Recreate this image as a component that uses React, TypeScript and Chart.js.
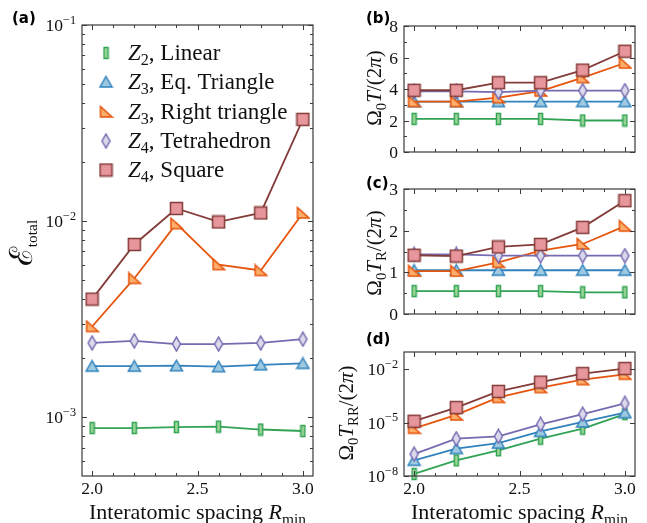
import React, { useEffect, useRef } from "react";
import { Chart, registerables } from "chart.js";

Chart.register(...registerables);

// ---------------- data ----------------
const xValues = [2.0, 2.2, 2.4, 2.6, 2.8, 3.0];
const seriesNames = ["Linear", "Eq. Triangle", "Right triangle", "Tetrahedron", "Square"];
const seriesGroups = ["2", "3", "3", "4", "4"];

// (a) total error
const totalLinear = [8.8e-4, 8.8e-4, 8.9e-4, 8.95e-4, 8.65e-4, 8.5e-4];
const totalEq = [1.82e-3, 1.82e-3, 1.83e-3, 1.81e-3, 1.85e-3, 1.88e-3];
const totalRight = [2.9e-3, 5.1e-3, 9.7e-3, 6.0e-3, 5.6e-3, 1.1e-2];
const totalTetra = [2.39e-3, 2.45e-3, 2.36e-3, 2.36e-3, 2.39e-3, 2.5e-3];
const totalSquare = [4.0e-3, 7.6e-3, 1.16e-2, 9.9e-3, 1.1e-2, 3.3e-2];

// (b) Omega0 T / 2pi
const periodLinear = [2.1, 2.1, 2.1, 2.1, 2.0, 2.0];
const periodEq = [3.2, 3.2, 3.2, 3.2, 3.2, 3.2];
const periodRight = [3.2, 3.2, 3.45, 3.87, 4.72, 5.65];
const periodTetra = [3.85, 3.85, 3.8, 3.9, 3.9, 3.9];
const periodSquare = [3.92, 3.92, 4.4, 4.4, 5.2, 6.4];

// (c) Omega0 T_R / 2pi
const trLinear = [0.55, 0.55, 0.55, 0.55, 0.52, 0.52];
const trEq = [1.05, 1.05, 1.05, 1.05, 1.05, 1.05];
const trRight = [1.03, 1.03, 1.24, 1.52, 1.68, 2.11];
const trTetra = [1.43, 1.43, 1.4, 1.4, 1.4, 1.4];
const trSquare = [1.41, 1.39, 1.61, 1.67, 2.08, 2.72];

// (d) Omega0 T_RR / 2pi
const trrLinear = [1.3e-8, 7.6e-8, 2.8e-7, 1.25e-6, 4.6e-6, 3.0e-5];
const trrEq = [7.6e-8, 3.5e-7, 7.0e-7, 3.2e-6, 1.1e-5, 3.6e-5];
const trrRight = [4.8e-6, 2.7e-5, 2.6e-4, 9.3e-4, 2.6e-3, 5.2e-3];
const trrTetra = [1.7e-7, 1.25e-6, 1.7e-6, 8.0e-6, 3.0e-5, 1.2e-4];
const trrSquare = [1.2e-5, 7.0e-5, 5.7e-4, 1.9e-3, 5.7e-3, 1.1e-2];

// ticks
const xMajorTicks = [2.0, 2.5, 3.0];
const xMinorTicks = [2.1, 2.2, 2.3, 2.4, 2.6, 2.7, 2.8, 2.9];
const xTickLabels = ["2.0", "2.5", "3.0"];
const aMajorTicks = [1e-1, 1e-2, 1e-3];
const aTickExps = ["−1", "−2", "−3"];
const bMajorTicks = [0, 2, 4, 6, 8];
const bMinorTicks = [1, 3, 5, 7];
const cMajorTicks = [0, 1, 2, 3];
const cMinorTicks = [0.5, 1.5, 2.5];
const dMajorTicks = [1e-2, 1e-5, 1e-8];
const dTickExps = ["−2", "−5", "−8"];

// ---------------- styles ----------------
const W = 647;
const H = 523;
const SERIF = '"Liberation Serif", "DejaVu Serif", serif';
const EDGE = ["#31a354", "#3182bd", "#e6550d", "#756bb1", "#843c39"];
const FILL = ["#a1d99b", "#9ecae1", "#fdae6b", "#dadaeb", "#e7969c"];
const AXIS = "#3a3a3a";
const TICK_FONT = 17.5;

type Seg = { t: string; it?: boolean; sub?: boolean; sup?: boolean; family?: string; scale?: number };

function segSize(s: Seg, size: number) {
  return s.sub || s.sup ? size * 0.7 : size * (s.scale ?? 1);
}
function segFont(s: Seg, size: number) {
  return `${s.it ? "italic " : ""}${segSize(s, size)}px ${s.family ?? SERIF}`;
}
function drawRich(ctx: CanvasRenderingContext2D, segs: Seg[], x: number, y: number, size: number, align: "left" | "center" | "right") {
  ctx.textAlign = "left";
  ctx.textBaseline = "alphabetic";
  const widths = segs.map((s) => {
    ctx.font = segFont(s, size);
    return ctx.measureText(s.t).width;
  });
  const total = widths.reduce((a, b) => a + b, 0);
  let cx = align === "left" ? x : align === "center" ? x - total / 2 : x - total;
  segs.forEach((s, i) => {
    ctx.font = segFont(s, size);
    const dy = s.sub ? size * 0.22 : s.sup ? -size * 0.42 : 0;
    ctx.fillText(s.t, cx, y + dy);
    cx += widths[i];
  });
}

function makeMarker(kind: number): HTMLCanvasElement {
  const c = document.createElement("canvas");
  const dims = [
    [7, 14],
    [15, 14],
    [15, 14],
    [11, 16],
    [15, 15],
  ][kind];
  c.width = dims[0];
  c.height = dims[1];
  const g = c.getContext("2d")!;
  g.fillStyle = FILL[kind];
  g.strokeStyle = EDGE[kind];
  g.lineWidth = 1.5;
  g.lineJoin = "miter";
  g.beginPath();
  if (kind === 0) {
    g.rect(1.5, 1.5, 4, 11);
  } else if (kind === 1) {
    g.moveTo(7.5, 1.5);
    g.lineTo(13.5, 12);
    g.lineTo(1.5, 12);
    g.closePath();
  } else if (kind === 2) {
    g.moveTo(2, 1.5);
    g.lineTo(2, 12);
    g.lineTo(13.5, 12);
    g.closePath();
  } else if (kind === 3) {
    g.moveTo(5.5, 1);
    g.lineTo(9.5, 8);
    g.lineTo(5.5, 15);
    g.lineTo(1.5, 8);
    g.closePath();
  } else {
    g.rect(1.5, 1.5, 12, 12);
  }
  g.fill();
  g.stroke();
  return c;
}

interface PanelSpec {
  key: string;
  area: { l: number; t: number; r: number; b: number };
  yType: "linear" | "logarithmic";
  yMin: number;
  yMax: number;
  yMajor: number[];
  yMinor: number[];
  yLabels: Seg[][];
  xLabels: boolean;
  yTitle: Seg[];
  yTitleSize: number;
  yTitleX: number;
  yTitleY: number;
  letter: string;
  letterY: number;
  letterX: number;
  series: number[][];
  legend?: boolean;
}

function logMinors(lo: number, hi: number) {
  const out: number[] = [];
  for (let e = -9; e <= 0; e++) {
    for (let k = 2; k <= 9; k++) {
      const v = k * Math.pow(10, e);
      if (v > lo && v < hi) out.push(v);
    }
  }
  return out;
}

const panels: PanelSpec[] = [
  {
    key: "a",
    area: { l: 82, t: 25, r: 313, b: 476 },
    yType: "logarithmic",
    yMin: Math.pow(10, -3.3),
    yMax: 0.1,
    yMajor: aMajorTicks,
    yMinor: logMinors(Math.pow(10, -3.3), 0.1),
    yLabels: aTickExps.map((e) => [{ t: "10" }, { t: e, sup: true }]),
    xLabels: true,
    yTitle: [{ t: "ℰ", family: '"DejaVu Serif", serif', scale: 1.45 }, { t: "total", sub: true }],
    yTitleSize: 22,
    yTitleX: 32,
    yTitleY: 243,
    letter: "(a)",
    letterX: 12,
    letterY: 23,
    series: [totalLinear, totalEq, totalRight, totalTetra, totalSquare],
    legend: true,
  },
  {
    key: "b",
    area: { l: 404, t: 26, r: 635, b: 152 },
    yType: "linear",
    yMin: 0,
    yMax: 8,
    yMajor: bMajorTicks,
    yMinor: bMinorTicks,
    yLabels: bMajorTicks.map((v) => [{ t: String(v) }]),
    xLabels: false,
    yTitle: [{ t: "Ω" }, { t: "0", sub: true }, { t: "T", it: true }, { t: "/(2" }, { t: "π", it: true }, { t: ")" }],
    yTitleSize: 21,
    yTitleX: 381,
    yTitleY: 88,
    letter: "(b)",
    letterX: 366,
    letterY: 23,
    series: [periodLinear, periodEq, periodRight, periodTetra, periodSquare],
  },
  {
    key: "c",
    area: { l: 404, t: 189, r: 635, b: 314 },
    yType: "linear",
    yMin: 0,
    yMax: 3,
    yMajor: cMajorTicks,
    yMinor: cMinorTicks,
    yLabels: cMajorTicks.map((v) => [{ t: String(v) }]),
    xLabels: false,
    yTitle: [{ t: "Ω" }, { t: "0", sub: true }, { t: "T", it: true }, { t: "R", sub: true }, { t: "/(2" }, { t: "π", it: true }, { t: ")" }],
    yTitleSize: 21,
    yTitleX: 381,
    yTitleY: 253,
    letter: "(c)",
    letterX: 366,
    letterY: 188,
    series: [trLinear, trEq, trRight, trTetra, trSquare],
  },
  {
    key: "d",
    area: { l: 404, t: 352, r: 635, b: 476 },
    yType: "logarithmic",
    yMin: 1e-8,
    yMax: Math.pow(10, -1.03),
    yMajor: dMajorTicks,
    yMinor: [],
    yLabels: dTickExps.map((e) => [{ t: "10" }, { t: e, sup: true }]),
    xLabels: true,
    yTitle: [{ t: "Ω" }, { t: "0", sub: true }, { t: "T", it: true }, { t: "RR", sub: true }, { t: "/(2" }, { t: "π", it: true }, { t: ")" }],
    yTitleSize: 21,
    yTitleX: 353,
    yTitleY: 413,
    letter: "(d)",
    letterX: 366,
    letterY: 344,
    series: [trrLinear, trrEq, trrRight, trrTetra, trrSquare],
  },
];

function Panel({ spec }: { spec: PanelSpec }) {
  const ref = useRef<HTMLCanvasElement>(null);
  useEffect(() => {
    const markers = [0, 1, 2, 3, 4].map(makeMarker);
    const a = spec.area;
    const decor = {
      id: "decor" + spec.key,
      afterDraw(chart: any) {
        const ctx: CanvasRenderingContext2D = chart.ctx;
        const xs = chart.scales.x;
        const ys = chart.scales.y;
        ctx.save();
        ctx.strokeStyle = AXIS;
        ctx.lineWidth = 1.2;
        ctx.strokeRect(a.l, a.t, a.r - a.l, a.b - a.t);
        ctx.lineWidth = 1;
        const tick = (x1: number, y1: number, x2: number, y2: number) => {
          ctx.beginPath();
          ctx.moveTo(x1, y1);
          ctx.lineTo(x2, y2);
          ctx.stroke();
        };
        const xt = (vals: number[], len: number) =>
          vals.forEach((v) => {
            const px = Math.round(xs.getPixelForValue(v)) + 0.5;
            tick(px, a.b, px, a.b - len);
            tick(px, a.t, px, a.t + len);
          });
        const yt = (vals: number[], len: number) =>
          vals.forEach((v) => {
            const py = Math.round(ys.getPixelForValue(v)) + 0.5;
            tick(a.l, py, a.l + len, py);
            tick(a.r, py, a.r - len, py);
          });
        xt(xMajorTicks, 5);
        xt(xMinorTicks, 3);
        yt(spec.yMajor, 5);
        yt(spec.yMinor, 3);

        ctx.fillStyle = "#111";
        spec.yMajor.forEach((v, i) => {
          const py = ys.getPixelForValue(v);
          drawRich(ctx, spec.yLabels[i], a.l - 6, py + 6, TICK_FONT, "right");
        });
        if (spec.xLabels) {
          xMajorTicks.forEach((v, i) => {
            const px = xs.getPixelForValue(v);
            drawRich(ctx, [{ t: xTickLabels[i] }], px, 494, TICK_FONT, "center");
          });
          drawRich(ctx, [{ t: "Interatomic spacing " }, { t: "R", it: true }, { t: "min", sub: true }], (a.l + a.r) / 2, 519, 22, "center");
        }
        ctx.save();
        ctx.translate(spec.yTitleX, spec.yTitleY);
        ctx.rotate(-Math.PI / 2);
        drawRich(ctx, spec.yTitle, 0, 0, spec.yTitleSize, "center");
        ctx.restore();
        ctx.font = 'bold 15px "DejaVu Sans", sans-serif';
        ctx.textAlign = "left";
        ctx.textBaseline = "alphabetic";
        ctx.fillStyle = "#000";
        ctx.fillText(spec.letter, spec.letterX, spec.letterY);
        if (spec.legend) {
          const rows = [53, 82, 112, 141, 170];
          rows.forEach((ry, i) => {
            const m = markers[i];
            ctx.drawImage(m, 106 - m.width / 2, ry - m.height / 2);
            ctx.fillStyle = "#111";
            drawRich(
              ctx,
              [{ t: "Z", it: true }, { t: seriesGroups[i], sub: true }, { t: ", " + seriesNames[i] }],
              128,
              ry + 7,
              23,
              "left"
            );
          });
        }
        ctx.restore();
      },
    };
    const chart = new Chart(ref.current!, {
      type: "line",
      data: {
        datasets: spec.series.map((arr, i) => ({
          label: seriesNames[i],
          data: xValues.map((x, j) => ({ x, y: arr[j] })),
          borderColor: EDGE[i],
          backgroundColor: FILL[i],
          borderWidth: 1.8,
          pointStyle: markers[i] as any,
          pointRadius: 6,
          tension: 0,
          clip: false as any,
          order: 5 - i,
        })),
      },
      options: {
        responsive: false,
        animation: false,
        events: [],
        layout: { padding: { left: a.l, top: a.t, right: W - a.r, bottom: H - a.b } },
        scales: {
          x: { type: "linear", min: 1.952, max: 3.048, display: false },
          y: { type: spec.yType, min: spec.yMin, max: spec.yMax, display: false } as any,
        },
        plugins: { legend: { display: false }, tooltip: { enabled: false } },
      },
      plugins: [decor],
    });
    return () => chart.destroy();
  }, []);
  return (
    <canvas
      ref={ref}
      width={W}
      height={H}
      style={{ position: "fixed", left: 0, top: 0, width: W, height: H }}
    />
  );
}

export default function App() {
  return (
    <div style={{ position: "fixed", left: 0, top: 0, width: W, height: H, background: "#fff" }}>
      {panels.map((p) => (
        <Panel key={p.key} spec={p} />
      ))}
    </div>
  );
}
